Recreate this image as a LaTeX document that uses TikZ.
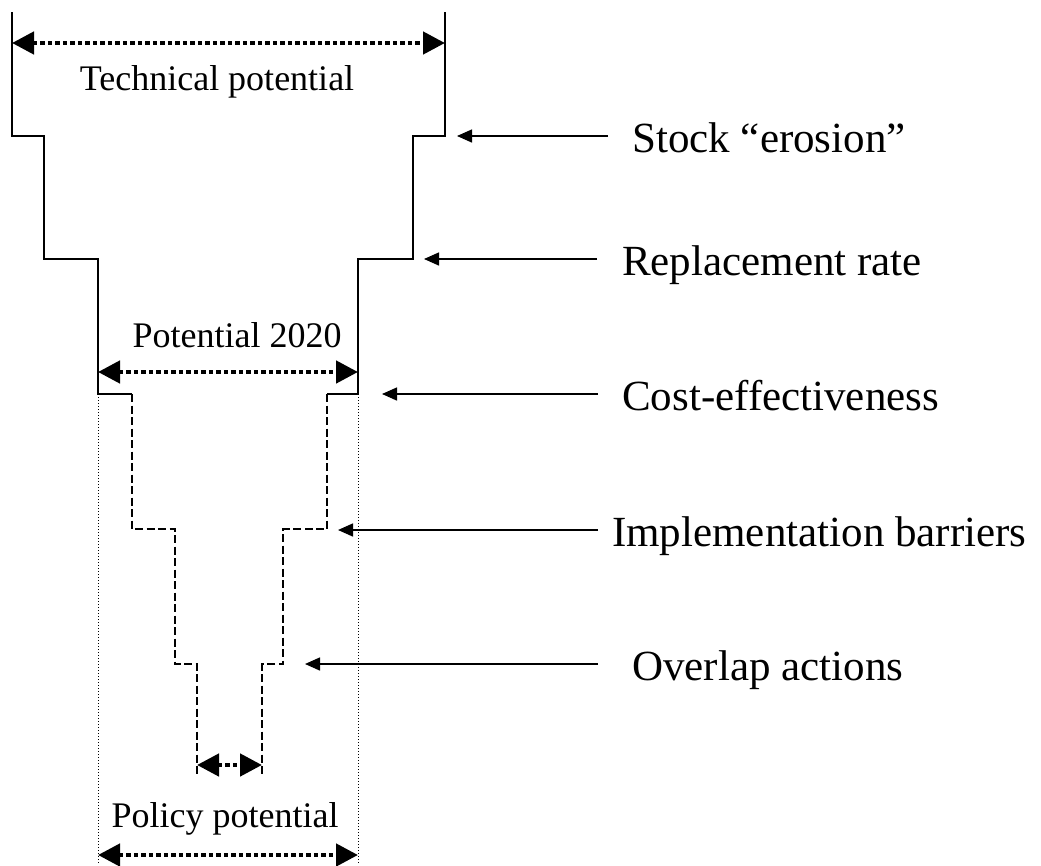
\documentclass[tikz,border=0pt]{standalone}
\usepackage{fontspec}
\setmainfont{Liberation Serif}
\usetikzlibrary{arrows.meta}
\begin{document}
\begin{tikzpicture}[x=1pt,y=-1pt,
  outline/.style={line width=1.5pt, line join=miter},
  innerline/.style={line width=1.5pt, dash pattern=on 8pt off 3.5pt},
  guide/.style={line width=0.8pt, dash pattern=on 1pt off 2pt},
  dimarrow/.style={line width=4.6pt, dash pattern=on 4.5pt off 3pt,
    {Triangle[length=22pt,width=22pt]}-{Triangle[length=22pt,width=22pt]}},
  ptr/.style={line width=1.5pt, -{Triangle[length=15pt,width=13pt]}},
  sidelabel/.style={font=\fontsize{43}{48}\selectfont, anchor=base west, inner sep=0pt},
  dimlabel/.style={font=\fontsize{36}{40}\selectfont, anchor=base, inner sep=0pt}]
\useasboundingbox (0,0) rectangle (1041,865);

% outline corners
\coordinate (tl) at (12,12);
\coordinate (tr) at (445,12);
\coordinate (pl) at (98,394);
\coordinate (pr) at (358,394);

% solid outline (technical potential -> potential 2020)
\draw[outline] (tl) -- (12,136) -- (44,136) -- (44,259) -- (98,259) -- (pl) -- (132,394);
\draw[outline] (tr) -- (445,136) -- (413,136) -- (413,259) -- (358,259) -- (pr) -- (327,394);

% dashed inner funnel
\draw[innerline] (132,394) -- (132,529) -- (175,529) -- (175,664) -- (197,664) -- (197,775);
\draw[innerline] (327,394) -- (327,529) -- (283,529) -- (283,664) -- (262,664) -- (262,775);

% dotted guides
\coordinate (gl) at (98,863);
\coordinate (gr) at (358,863);
\draw[guide] (pl) -- (gl);
\draw[guide] (pr) -- (gr);

% dimension arrows
\coordinate (ta1) at (12,43);  \coordinate (ta2) at (445,43);
\coordinate (pa1) at (98,372); \coordinate (pa2) at (358,372);
\coordinate (sa1) at (197,765); \coordinate (sa2) at (262,765);
\coordinate (ya1) at (98,855); \coordinate (ya2) at (358,855);
\draw[dimarrow] (ta1) -- (ta2);
\draw[dimarrow] (pa1) -- (pa2);
\draw[dimarrow] (sa1) -- (sa2);
\draw[dimarrow] (ya1) -- (ya2);

\node[dimlabel] (tech) at (217,90) {Technical potential};
\node[dimlabel] (p2020) at (237,347) {Potential 2020};
\node[dimlabel] (policy) at (225,827) {Policy potential};

% side labels and pointers
\node[sidelabel] (stock) at (632,152) {Stock “erosion”};
\node[sidelabel] (repl) at (622,275) {Replacement rate};
\node[sidelabel] (cost) at (622,410) {Cost-effectiveness};
\node[sidelabel] (impl) at (612,546) {Implementation barriers};
\node[sidelabel] (over) at (632,680) {Overlap actions};

\coordinate (s1) at (608,136); \coordinate (s2) at (457,136);
\coordinate (r1) at (597,259); \coordinate (r2) at (424,259);
\coordinate (c1) at (598,394); \coordinate (c2) at (382,394);
\coordinate (i1) at (598,530); \coordinate (i2) at (338,530);
\coordinate (o1) at (598,664); \coordinate (o2) at (305,664);
\draw[ptr] (s1) -- (s2);
\draw[ptr] (r1) -- (r2);
\draw[ptr] (c1) -- (c2);
\draw[ptr] (i1) -- (i2);
\draw[ptr] (o1) -- (o2);
\end{tikzpicture}
\end{document}
